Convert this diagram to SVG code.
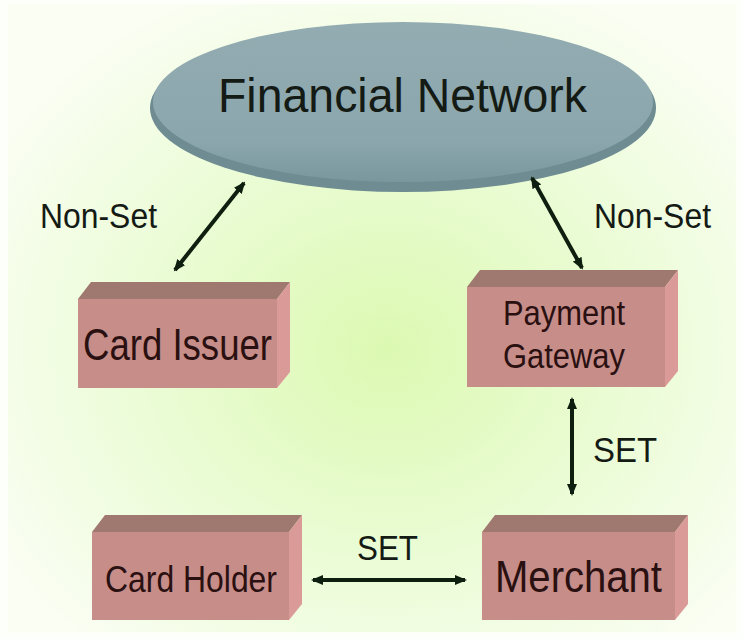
<svg xmlns="http://www.w3.org/2000/svg" width="743" height="639" viewBox="0 0 743 639">
  <defs>
    <radialGradient id="bg" cx="0.52" cy="0.55" r="0.62">
      <stop offset="0" stop-color="#dcf9b2"/>
      <stop offset="0.55" stop-color="#ebfcd6"/>
      <stop offset="1" stop-color="#fafef3"/>
    </radialGradient>
    <linearGradient id="disk" x1="0" y1="0" x2="0" y2="1">
      <stop offset="0" stop-color="#93acb2"/>
      <stop offset="0.75" stop-color="#8ba6ad"/>
      <stop offset="1" stop-color="#7a979e"/>
    </linearGradient>
    <marker id="head" viewBox="0 0 12 10" refX="10" refY="5" markerWidth="12" markerHeight="10" markerUnits="userSpaceOnUse" orient="auto-start-reverse">
      <path d="M0,0 L12,5 L0,10 Z" fill="#0f1f0f"/>
    </marker>
    <filter id="soft" x="-5%" y="-5%" width="110%" height="110%">
      <feGaussianBlur stdDeviation="0.6"/>
    </filter>
  </defs>
  <style>
    .lbl { font-family: "Liberation Sans", Arial, sans-serif; fill: #141a14; }
    .box-text { font-family: "Liberation Sans", Arial, sans-serif; fill: #2a1010; }
    .front { fill: #c68d89; }
    .top { fill: #9f786f; }
    .side { fill: #da9a97; }
    .conn { stroke: #0f1f0f; stroke-width: 4; fill: none; marker-start: url(#head); marker-end: url(#head); }
  </style>

  <!-- background -->
  <rect x="0" y="0" width="743" height="639" fill="#fdfffa"/>
  <rect x="8" y="4" width="728" height="628" fill="url(#bg)"/>

  <!-- network disk -->
  <g id="financial-network">
    <ellipse cx="403" cy="108" rx="253" ry="84" fill="#6f8c93" filter="url(#soft)"/>
    <ellipse cx="403" cy="102" rx="250" ry="80" fill="url(#disk)"/>
    <text class="lbl" x="218" y="112" font-size="49" textLength="369" lengthAdjust="spacingAndGlyphs">Financial Network</text>
  </g>

  <!-- card issuer -->
  <g id="card-issuer">
    <polygon class="top" points="78,299 91,282 290,282 277,299"/>
    <polygon class="side" points="277,299 290,282 290,372 277,388"/>
    <rect class="front" x="78" y="299" width="199" height="89"/>
    <text class="box-text" x="83" y="360" font-size="44" textLength="189" lengthAdjust="spacingAndGlyphs">Card Issuer</text>
  </g>

  <!-- payment gateway -->
  <g id="payment-gateway">
    <polygon class="top" points="467,287 480,270 678,270 665,287"/>
    <polygon class="side" points="665,287 678,270 678,371 665,387"/>
    <rect class="front" x="467" y="287" width="198" height="100"/>
    <text class="box-text" x="503" y="325" font-size="35" textLength="122" lengthAdjust="spacingAndGlyphs">Payment</text>
    <text class="box-text" x="503" y="368" font-size="35" textLength="122" lengthAdjust="spacingAndGlyphs">Gateway</text>
  </g>

  <!-- card holder -->
  <g id="card-holder">
    <polygon class="top" points="92,532 105,515 302,515 289,532"/>
    <polygon class="side" points="289,532 302,515 302,604 289,620"/>
    <rect class="front" x="92" y="532" width="197" height="88"/>
    <text class="box-text" x="105" y="592" font-size="36" textLength="172" lengthAdjust="spacingAndGlyphs">Card Holder</text>
  </g>

  <!-- merchant -->
  <g id="merchant">
    <polygon class="top" points="482,532 495,515 688,515 675,532"/>
    <polygon class="side" points="675,532 688,515 688,604 675,620"/>
    <rect class="front" x="482" y="532" width="193" height="88"/>
    <text class="box-text" x="495" y="592" font-size="45" textLength="167" lengthAdjust="spacingAndGlyphs">Merchant</text>
  </g>

  <!-- connectors -->
  <g id="connectors">
    <line class="conn" x1="244" y1="183" x2="175" y2="270"/>
    <line class="conn" x1="532" y1="178" x2="582" y2="268"/>
    <line class="conn" x1="572" y1="399" x2="572" y2="494"/>
    <line class="conn" x1="313" y1="580" x2="465" y2="580"/>
    <text class="lbl" x="40" y="228" font-size="35" textLength="117" lengthAdjust="spacingAndGlyphs">Non-Set</text>
    <text class="lbl" x="594" y="228" font-size="35" textLength="117" lengthAdjust="spacingAndGlyphs">Non-Set</text>
    <text class="lbl" x="593" y="462" font-size="35" textLength="64" lengthAdjust="spacingAndGlyphs">SET</text>
    <text class="lbl" x="357" y="560" font-size="35" textLength="61" lengthAdjust="spacingAndGlyphs">SET</text>
  </g>
</svg>
